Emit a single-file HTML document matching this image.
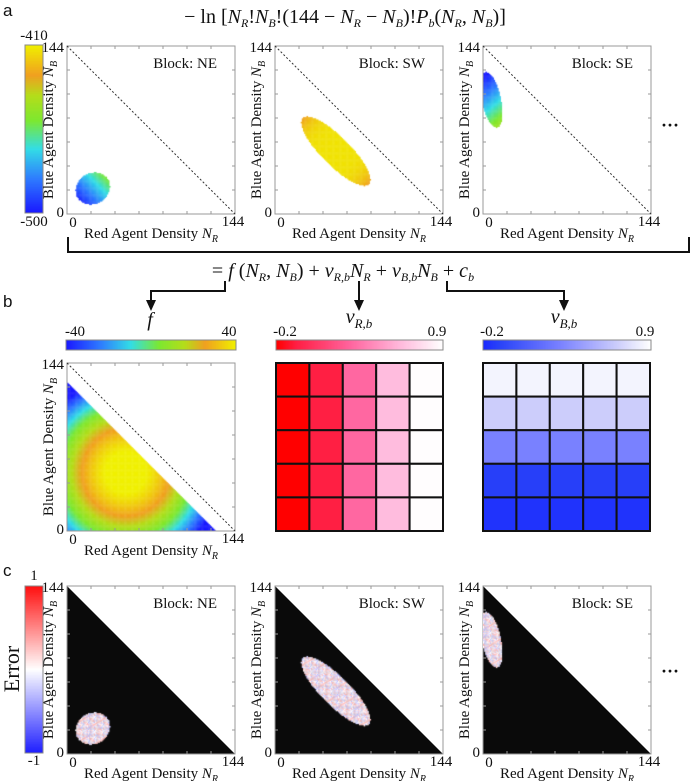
<!DOCTYPE html>
<html><head><meta charset="utf-8">
<style>
html,body{margin:0;padding:0;background:#fff;}
#wrap{position:relative;width:691px;height:781px;overflow:hidden;font-family:"Liberation Serif",serif;}
canvas{position:absolute;}
svg{position:absolute;left:0;top:0;}
text{font-family:"Liberation Serif",serif;fill:#111;}
</style></head>
<body>
<div id="wrap">
<svg id="svg" width="691" height="781"></svg>
</div>
<script>
// ---------- data ----------
const N = 144;
const blockNames = ['NE','SW','SE'];
const blobCx = [22, 52, 7];
const blobCy = [22, 54, 98];
const blobRx = [15, 40, 8];
const blobRy = [13, 12, 24];
const blobRot = [30, -45, 12];
const blobBase = [0.3, 0.97, 0.3];
const blobGx = [0.012, 0, 0.01];
const blobGy = [0.012, 0, -0.012];
const blobTip = [0, 0.15, 0];
const aRange = [-500, -410];
const fRange = [-40, 40];
const fCenter = [50, 50];
const fPeak = 44, fDrop = 118, fScale = 95, fLimit = 126;
const vRange = [-0.2, 0.9];
const vR = [[-0.2,-0.07,0.30,0.63,0.89],[-0.2,-0.07,0.30,0.63,0.89],[-0.2,-0.07,0.30,0.63,0.89],[-0.2,-0.07,0.30,0.63,0.89],[-0.2,-0.07,0.30,0.63,0.89]];
const vB = [[0.85,0.85,0.85,0.85,0.85],[0.68,0.68,0.68,0.68,0.68],[0.30,0.30,0.30,0.30,0.30],[-0.11,-0.11,-0.11,-0.11,-0.11],[-0.16,-0.16,-0.16,-0.16,-0.16]];
const errRange = [-1, 1];
const axisTicks = ['0','144'];

// ---------- helpers ----------
const SZ = 168, S = SZ / N;
const svg = document.getElementById('svg');
const wrap = document.getElementById('wrap');
const NS = 'http://www.w3.org/2000/svg';
function mk(tag, attrs, parent){ const e=document.createElementNS(NS,tag); for(const k in attrs) e.setAttribute(k,attrs[k]); (parent||svg).appendChild(e); return e; }
function hex(h){ return [parseInt(h.substr(1,2),16),parseInt(h.substr(3,2),16),parseInt(h.substr(5,2),16)]; }
function cmap(stops, t){ t=Math.max(0,Math.min(1,t)); for(let i=1;i<stops.length;i++){ if(t<=stops[i][0]){ const a=stops[i-1],b=stops[i]; const u=(t-a[0])/(b[0]-a[0]); const ca=hex(a[1]),cb=hex(b[1]); return 'rgb('+ca.map((v,k)=>Math.round(v+(cb[k]-v)*u)).join(',')+')'; } } return stops[stops.length-1][1]; }
const parula = [[0,'#1a1aff'],[0.2,'#2e7bff'],[0.38,'#33dde6'],[0.55,'#7de830'],[0.7,'#b5dd1a'],[0.82,'#f0a020'],[1,'#f0f000']];
const reds = [[0,'#ff0000'],[0.12,'#ff1f44'],[0.45,'#ff66a0'],[0.75,'#ffbbdd'],[1,'#ffffff']];
const blues = [[0,'#1a2aff'],[0.1,'#2a44f8'],[0.45,'#7880ff'],[0.8,'#cccdfb'],[1,'#ffffff']];
const rwb = [[0,'#2020ff'],[0.5,'#ffffff'],[1,'#ff1010']];
function newCanvas(x,y,w,h,name){ const c=document.createElement('canvas'); c.width=w; c.height=h; c.style.left=x+'px'; c.style.top=y+'px';
  
  
  wrap.insertBefore(c, svg); return c.getContext('2d'); }
function text(x,y,str,size,anchor,name,extra){ const t=mk('text',Object.assign({x:x,y:y,'font-size':size,'text-anchor':anchor||'start'},extra||{})); t.innerHTML=str;
  
  
  return t; }
function inBlob(b,nr,nb){ const r=blobRot[b]*Math.PI/180; const dx=nr-blobCx[b], dy=nb-blobCy[b];
  const u=(dx*Math.cos(r)+dy*Math.sin(r))/blobRx[b], v=(-dx*Math.sin(r)+dy*Math.cos(r))/blobRy[b]; return [u*u+v*v<=1,u]; }
const NR = '<tspan font-style="italic">N</tspan><tspan font-size="10" dy="4" font-style="italic">R</tspan>';
const NBy = '<tspan font-style="italic">N</tspan><tspan font-size="10" dy="4" font-style="italic">B</tspan>';

function axes(px,py,panel,idx,black){
  const g = mk('g',{});
  
  
  if(black){ mk('polygon',{points:px+','+py+' '+(px+SZ)+','+(py+SZ)+' '+px+','+(py+SZ),fill:'#0a0a0a'},g); }
  mk('rect',{x:px,y:py,width:SZ,height:SZ,fill:'none',stroke:'#999','stroke-width':1},g);
  for(let k=1;k<7;k++){ const d=k*SZ/7;
    mk('line',{x1:px+d,y1:py+SZ,x2:px+d,y2:py+SZ-3,stroke:'#999'},g);
    mk('line',{x1:px+d,y1:py,x2:px+d,y2:py+3,stroke:'#999'},g);
    mk('line',{x1:px,y1:py+d,x2:px+3,y2:py+d,stroke:'#999'},g);
    mk('line',{x1:px+SZ,y1:py+d,x2:px+SZ-3,y2:py+d,stroke:'#999'},g);}
  if(!black) { const dl = mk('line',{x1:px,y1:py,x2:px+SZ,y2:py+SZ,stroke:'#333','stroke-dasharray':'2,2'},g);
    
     }
  text(px-3,py+6,axisTicks[1],15,'end','y-tick-144');
  text(px-3,py+SZ+3,axisTicks[0],15,'end','y-tick-0');
  text(px+6,py+SZ+13,axisTicks[0],15,'middle','x-tick-0');
  text(px+SZ-2,py+SZ+12,axisTicks[1],15,'middle','x-tick-144');
  text(px+SZ/2,py+SZ+24,'Red Agent Density '+NR,15,'middle','x-axis-title');
  text(0,0,'Blue Agent Density '+NBy,15,'middle','y-axis-title',{transform:'translate('+(px-14)+','+(py+SZ/2)+') rotate(-90)'});
}

function sb(base, sub, fs){ return '<tspan font-style="italic">'+base+'</tspan><tspan font-size="'+fs+'" dy="4" font-style="italic">'+sub+'</tspan>'; }
function rs(t){ return '<tspan dy="-4">'+t+'</tspan>'; }

// ---------- panel labels ----------
text(3,16,'a',17,'start','panel-label-a',{style:'font-family:"Liberation Sans",sans-serif'});
text(3,307,'b',17,'start','panel-label-b',{style:'font-family:"Liberation Sans",sans-serif'});
text(3,576,'c',17,'start','panel-label-c',{style:'font-family:"Liberation Sans",sans-serif'});
text(345,23,'− ln [' + sb('N','R',12) + rs('!') + sb('N','B',12) + rs('!(144 − ') + sb('N','R',12) + rs(' − ') + sb('N','B',12) + rs(')!') + sb('P','b',12) + rs('(') + sb('N','R',12) + rs(', ') + sb('N','B',12) + rs(')]'),20,'middle','title-formula');

// ---------- panel a ----------
const aX = [67,275,483], aY = 46;
(function(){
  const ctx = newCanvas(25,45,18,168,'colorbar-a');
  for(let i=0;i<168;i++){ ctx.fillStyle=cmap(parula,1-i/167); ctx.fillRect(0,i,18,1.2); }
  const r = mk('rect',{x:25,y:45,width:18,height:168,fill:'none',stroke:'#888'});
   
  text(34,40,String(aRange[1]),15,'middle','colorbar-a-max');
  text(34,226,String(aRange[0]),15,'middle','colorbar-a-min');
})();
for(let b=0;b<3;b++){
  const ctx = newCanvas(aX[b],aY,SZ,SZ,'heatmap-a-'+blockNames[b]);
  for(let i=0;i<N;i++) for(let j=0;j<N;j++){
    const [ins,u] = inBlob(b,i+0.5,j+0.5); if(!ins) continue;
    const t = blobBase[b] + blobGx[b]*(i-blobCx[b]) + blobGy[b]*(j-blobCy[b]) - blobTip[b]*u*u*u*u;
    ctx.fillStyle = cmap(parula,t);
    ctx.fillRect(i*S, SZ-(j+1)*S, S+0.4, S+0.4);
  }
  axes(aX[b],aY,'a',b,false);
  text(aX[b]+150,aY+22,'Block: '+blockNames[b],15,'end','block-label-a-'+blockNames[b]);
}
text(670,131,'···',18,'middle','ellipsis-a',{'font-weight':'bold'});

// ---------- bracket & arrows ----------
(function(){
  const br = mk('polyline',{points:'68,237 68,252 689,252 689,237',fill:'none',stroke:'#111','stroke-width':2});
   
  const s = '= <tspan font-style="italic">f</tspan> (' + sb('N','R',12) + rs(', ') + sb('N','B',12) + rs(') + ') +
    sb('v','R,b',12) + '<tspan dy="-4" font-style="italic">N</tspan><tspan font-size="12" dy="4" font-style="italic">R</tspan>' + rs(' + ') +
    sb('v','B,b',12) + '<tspan dy="-4" font-style="italic">N</tspan><tspan font-size="12" dy="4" font-style="italic">B</tspan>' + rs(' + ') +
    sb('c','b',12);
  text(343,277,s,20,'middle','decomposition-formula');
  const arrows = [[[225,281],[225,291],[151,291],[151,301]],[[359,281],[359,301]],[[447,281],[447,291],[564,291],[564,301]]];
  const names = ['arrow-f','arrow-vr','arrow-vb'];
  arrows.forEach((pts,k)=>{
    const p = mk('polyline',{points:pts.map(q=>q.join(',')).join(' '),fill:'none',stroke:'#111','stroke-width':2});
     
    const e = pts[pts.length-1];
    mk('polygon',{points:(e[0]-5)+','+(e[1]-1)+' '+(e[0]+5)+','+(e[1]-1)+' '+e[0]+','+(e[1]+10),fill:'#111'});
  });
})();

// ---------- panel b ----------
(function(){
  let ctx = newCanvas(66,340,170,10,'colorbar-f');
  for(let i=0;i<170;i++){ ctx.fillStyle=cmap(parula,i/169); ctx.fillRect(i,0,1.2,10); }
  mk('rect',{x:66,y:340,width:170,height:10,fill:'none',stroke:'#888'});
  text(75,336,String(fRange[0]),15,'middle','colorbar-f-min');
  text(229,336,String(fRange[1]),15,'middle','colorbar-f-max');
  text(150,326,'f',20,'middle','f-label',{'font-style':'italic'});
  ctx = newCanvas(276,340,167,10,'colorbar-vr');
  for(let i=0;i<167;i++){ ctx.fillStyle=cmap(reds,i/166); ctx.fillRect(i,0,1.2,10); }
  mk('rect',{x:276,y:340,width:167,height:10,fill:'none',stroke:'#888'});
  text(285,336,String(vRange[0]),15,'middle','colorbar-vr-min');
  text(437,336,String(vRange[1]),15,'middle','colorbar-vr-max');
  text(359,323,'<tspan font-style="italic">v</tspan><tspan font-size="13" dy="5" font-style="italic">R,b</tspan>',20,'middle','vr-label');
  ctx = newCanvas(483,340,168,10,'colorbar-vb');
  for(let i=0;i<168;i++){ ctx.fillStyle=cmap(blues,i/167); ctx.fillRect(i,0,1.2,10); }
  mk('rect',{x:483,y:340,width:168,height:10,fill:'none',stroke:'#888'});
  text(492,336,String(vRange[0]),15,'middle','colorbar-vb-min');
  text(645,336,String(vRange[1]),15,'middle','colorbar-vb-max');
  text(564,323,'<tspan font-style="italic">v</tspan><tspan font-size="13" dy="5" font-style="italic">B,b</tspan>',20,'middle','vb-label');

  const bx=67, by=363;
  ctx = newCanvas(bx,by,SZ,SZ,'heatmap-f');
  for(let i=0;i<N;i++) for(let j=0;j<N;j++){
    if(i+j>fLimit) continue;
    const d = Math.hypot(i-fCenter[0], j-fCenter[1]);
    let f = fPeak - fDrop*(d/fScale)*(d/fScale);
    f = Math.max(fRange[0],Math.min(fRange[1],f));
    ctx.fillStyle = cmap(parula,(f-fRange[0])/(fRange[1]-fRange[0]));
    ctx.fillRect(i*S, SZ-(j+1)*S, S+0.4, S+0.4);
  }
  axes(bx,by,'b',0,false);

  function grid(gx,gy,vals,stops,name){
    const w=167/5, h=168/5;
    const g = mk('g',{});
    
    
    for(let r=0;r<5;r++) for(let c=0;c<5;c++){
      const t=(vals[r][c]-vRange[0])/(vRange[1]-vRange[0]);
      const cell = mk('rect',{x:gx+c*w,y:gy+r*h,width:w,height:h,fill:cmap(stops,t),stroke:'#111','stroke-width':2},g);
      
      
    }
  }
  grid(276,363,vR,reds,'vr-grid');
  grid(483,363,vB,blues,'vb-grid');
})();

// ---------- panel c ----------
const cX=[67,275,483], cY=586;
(function(){
  const ctx = newCanvas(25,cY,18,167,'colorbar-error');
  for(let i=0;i<167;i++){ ctx.fillStyle=cmap(rwb,1-i/166); ctx.fillRect(0,i,18,1.2); }
  mk('rect',{x:25,y:cY,width:18,height:167,fill:'none',stroke:'#888'});
  text(34,580,String(errRange[1]),15,'middle','colorbar-error-max');
  text(34,765,String(errRange[0]),15,'middle','colorbar-error-min');
  text(0,0,'Error',22,'middle','colorbar-error-title',{transform:'translate(19,669) rotate(-90)'});
})();
for(let b=0;b<3;b++){
  axes(cX[b],cY,'c',b,true);
  const ctx = newCanvas(cX[b],cY,SZ,SZ,'error-map-'+blockNames[b]);
  wrap.appendChild(ctx.canvas);
  for(let i=0;i<N;i++) for(let j=0;j<N;j++){
    const [ins] = inBlob(b,i+0.5,j+0.5); if(!ins) continue;
    const h = ((i*i*7 + j*j*13 + i*j*5 + i*3) % 17);
    const e = (h-8)/8*0.28;
    ctx.fillStyle = cmap(rwb,(e+1)/2);
    ctx.fillRect(i*S, SZ-(j+1)*S, S+0.4, S+0.4);
  }
  text(cX[b]+150,cY+22,'Block: '+blockNames[b],15,'end','block-label-c-'+blockNames[b]);
}
text(670,677,'···',18,'middle','ellipsis-c',{'font-weight':'bold'});
</script>
</body></html>
